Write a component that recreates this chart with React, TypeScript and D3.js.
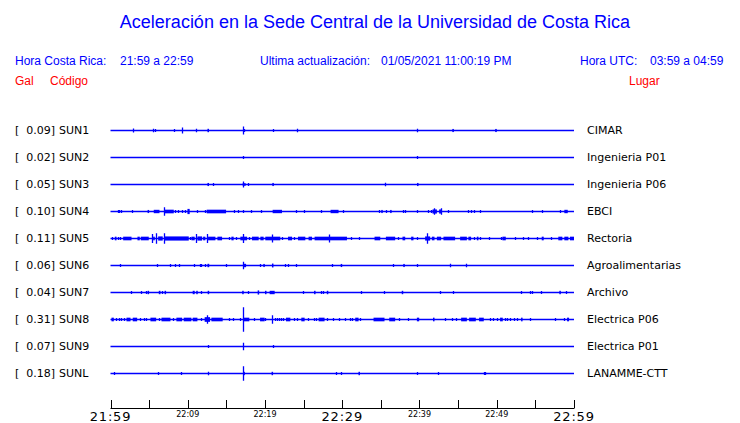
import React from "react";
import * as d3 from "d3";

// ---------- data ----------
const codes = ["SUN1", "SUN2", "SUN3", "SUN4", "SUN5", "SUN6", "SUN7", "SUN8", "SUN9", "SUNL"];
const peaks = ["0.09", "0.02", "0.05", "0.10", "0.11", "0.06", "0.04", "0.31", "0.07", "0.18"];
const places = ["CIMAR", "Ingenieria P01", "Ingenieria P06", "EBCI", "Rectoria", "Agroalimentarias", "Archivo", "Electrica P06", "Electrica P01", "LANAMME-CTT"];

const tickMinutes = [0, 5, 10, 15, 20, 25, 30, 35, 40, 45, 50, 55, 60];
const labelMinutes = [0, 10, 20, 30, 40, 50, 60];
const timeLabels = ["21:59", "22:09", "22:19", "22:29", "22:39", "22:49", "22:59"];
const bigLabels = ["21:59", "22:29", "22:59"];

// spikes: [minute, relative amplitude]; bursts: [start minute, end minute, relative amplitude]
const sun1Spikes = [[2.88,0.15],[5.52,0.14],[5.73,0.1],[8.19,0.08],[9.22,0.23],[11.03,0.14],[17.11,0.3],[17.3,0.1],[20.99,0.12],[24.09,0.14],[39.74,0.14]];
const sun1Bursts = [[12.55,12.75,0.13],[44.25,44.45,0.12],[49.8,50.0,0.12]];
const sun2Spikes = [[17.11,0.1],[39.74,0.08]];
const sun2Bursts: number[][] = [];
const sun3Spikes = [[13.23,0.08],[17.11,0.23],[17.76,0.12],[35.47,0.14]];
const sun3Bursts = [[12.55,12.75,0.12],[17.11,17.5,0.1],[20.95,21.1,0.12],[39.68,39.85,0.12]];
const sun4Spikes = [[0.94,0.1],[1.16,0.1],[1.42,0.1],[2.75,0.1],[6.89,0.32],[8.41,0.12],[8.75,0.12],[9.27,0.12],[9.7,0.12],[11.21,0.1],[12.28,0.1],[15.94,0.1],[16.46,0.1],[17.11,0.1],[18.14,0.1],[19.44,0.1],[23.96,0.1],[25.05,0.06],[27.19,0.1],[30.04,0.1],[34.7,0.1],[35.65,0.1],[37.8,0.1],[38.06,0.1],[39.74,0.1],[41.16,0.1],[41.47,0.1],[41.9,0.25],[42.84,0.25],[43.67,0.1],[46.33,0.08],[46.72,0.1],[47.11,0.1],[47.89,0.08],[54.53,0.1],[55.9,0.1],[58.23,0.1]];
const sun4Bursts = [[4.8,5.0,0.12],[5.6,6.34,0.13],[7.02,8.19,0.14],[9.96,10.25,0.2],[12.45,14.96,0.14],[20.99,22.2,0.13],[28.49,29.52,0.13],[35.05,35.2,0.12],[36.2,36.32,0.12],[41.68,42.25,0.16],[42.54,42.84,0.16],[58.75,59.19,0.13]];
const sun5Spikes = [[0.13,0.12],[1.0,0.12],[1.2,0.12],[5.39,0.35],[5.91,0.4],[6.89,0.4],[10.35,0.12],[11.08,0.35],[12.5,0.35],[15.3,0.1],[16.25,0.12],[17.1,0.35],[17.97,0.12],[20.91,0.3],[22.2,0.12],[23.79,0.12],[28.23,0.3],[31.16,0.12],[32.11,0.08],[37.28,0.1],[39.74,0.12],[41.0,0.4],[47.11,0.12],[47.89,0.12],[49.05,0.1],[50.56,0.1],[52.37,0.1],[53.45,0.08],[54.01,0.1],[55.18,0.08],[57.03,0.08]];
const sun5Bursts = [[0.56,0.78,0.14],[1.64,2.72,0.14],[3.49,3.79,0.14],[3.92,4.95,0.14],[5.52,5.73,0.14],[6.17,6.76,0.16],[7.02,10.13,0.16],[10.47,10.9,0.14],[11.25,11.86,0.16],[11.99,12.28,0.14],[12.63,13.58,0.14],[13.84,14.44,0.14],[15.65,15.94,0.14],[16.81,17.68,0.14],[18.32,19.18,0.14],[19.4,19.82,0.14],[20.04,21.98,0.14],[22.98,23.5,0.14],[24.27,25.22,0.14],[25.64,26.08,0.14],[26.42,30.61,0.14],[34.18,34.92,0.14],[35.65,36.85,0.14],[37.8,38.15,0.14],[38.92,39.22,0.14],[40.73,41.38,0.16],[41.6,41.94,0.14],[42.25,42.8,0.14],[43.1,44.61,0.14],[45.26,46.13,0.14],[46.33,46.68,0.14],[47.42,47.63,0.14],[50.73,51.17,0.14],[55.82,56.08,0.14],[57.97,58.49,0.14],[58.75,59.27,0.14],[59.48,60.0,0.14]];
const sun6Spikes = [[1.2,0.06],[5.99,0.12],[7.67,0.1],[8.31,0.12],[8.92,0.12],[10.77,0.06],[11.6,0.1],[11.77,0.1],[12.28,0.1],[14.91,0.1],[17.11,0.28],[19.31,0.12],[22.54,0.1],[22.93,0.1],[23.96,0.1],[28.67,0.06],[36.63,0.12],[39.74,0.1],[44.0,0.14],[46.07,0.14]];
const sun6Bursts = [[12.55,12.78,0.13],[17.16,17.55,0.13],[19.78,19.95,0.12],[20.9,21.05,0.15],[29.8,29.95,0.12],[37.9,38.05,0.12]];
const sun7Spikes = [[2.59,0.1],[4.01,0.08],[4.56,0.1],[6.72,0.12],[11.73,0.1],[17.76,0.1],[24.96,0.1],[27.2,0.08],[27.45,0.1],[32.42,0.06],[35.43,0.1],[42.71,0.06],[44.39,0.12],[53.19,0.12],[54.35,0.12],[54.61,0.12],[55.77,0.06],[59.01,0.06]];
const sun7Bursts = [[4.8,4.95,0.13],[6.25,6.47,0.13],[7.0,7.12,0.13],[10.64,10.9,0.13],[11.1,11.21,0.13],[12.58,12.7,0.13],[17.05,17.2,0.13],[19.05,19.18,0.16],[20.0,20.15,0.13],[20.6,21.25,0.13],[26.35,26.5,0.13],[28.0,28.12,0.13],[37.7,37.82,0.13],[58.1,58.22,0.13]];
const sun8Spikes = [[0.74,0.1],[1.16,0.1],[1.42,0.1],[1.77,0.1],[3.79,0.1],[4.36,0.1],[4.66,0.1],[6.25,0.1],[8.11,0.1],[11.73,0.1],[12.54,0.32],[15.39,0.1],[15.82,0.1],[16.81,0.1],[17.11,0.95],[18.53,0.1],[20.04,0.1],[20.91,0.32],[21.27,0.12],[21.56,0.12],[21.85,0.12],[22.11,0.12],[22.37,0.12],[23.7,0.1],[24.14,0.1],[25.57,0.1],[26.29,0.1],[26.64,0.1],[28.02,0.1],[28.8,0.1],[29.52,0.1],[30.3,0.12],[30.39,0.12],[31.04,0.12],[31.26,0.12],[32.24,0.08],[37.41,0.1],[38.57,0.1],[43.32,0.1],[44.19,0.12],[44.74,0.1],[49.14,0.1],[49.57,0.1],[50.01,0.1],[51.08,0.12],[51.38,0.1],[51.73,0.12],[52.25,0.12],[52.63,0.12],[54.35,0.08],[57.55,0.1],[58.75,0.12]];
const sun8Bursts = [[0.13,0.43,0.14],[2.07,2.59,0.14],[2.88,3.45,0.14],[5.17,5.91,0.14],[6.6,7.76,0.14],[8.53,9.27,0.14],[9.48,10.47,0.14],[10.64,11.25,0.14],[12.19,12.89,0.18],[13.06,14.52,0.14],[17.24,17.97,0.14],[19.36,19.95,0.14],[22.72,23.28,0.14],[24.7,25.13,0.14],[26.94,27.71,0.14],[31.68,32.11,0.14],[34.05,35.47,0.14],[36.08,36.85,0.14],[39.66,39.96,0.14],[41.75,41.9,0.14],[45.39,46.13,0.14],[46.42,47.29,0.14],[47.71,48.32,0.14],[50.43,50.78,0.14],[53.15,53.3,0.14],[59.1,59.36,0.14]];
const sun9Spikes = [[12.58,0.1],[17.11,0.28],[20.99,0.1]];
const sun9Bursts: number[][] = [];
const sunLSpikes = [[0.43,0.12],[6.12,0.12],[9.09,0.12],[12.58,0.14],[17.11,0.56],[29.13,0.1],[29.78,0.06],[39.74,0.1],[42.41,0.12],[48.32,0.12],[48.53,0.12]];
const sunLBursts = [[17.2,17.35,0.13],[20.85,21.0,0.13],[32.1,32.25,0.13]];

const spikes = [sun1Spikes, sun2Spikes, sun3Spikes, sun4Spikes, sun5Spikes, sun6Spikes, sun7Spikes, sun8Spikes, sun9Spikes, sunLSpikes];
const bursts = [sun1Bursts, sun2Bursts, sun3Bursts, sun4Bursts, sun5Bursts, sun6Bursts, sun7Bursts, sun8Bursts, sun9Bursts, sunLBursts];

// ---------- chart ----------
const W = 740;
const H = 423;
const BLUE = "#0000ff";
const RED = "#ff0000";
const SANS = "'Liberation Sans', Arial, sans-serif";
const DV = "'DejaVu Sans', sans-serif";

export default function App() {
  const x = d3.scaleLinear().domain([0, 60]).range([110.5, 574]);
  const y = d3.scalePoint<string>().domain(codes).range([130.5, 373.5]);
  const amp = d3.scaleLinear().domain([0, 1]).range([0, 13]);

  const tracePath = (i: number) => {
    const p = d3.path();
    const yy = y(codes[i]) as number;
    p.moveTo(x(0), yy);
    p.lineTo(x(60), yy);
    for (const [t, a] of spikes[i]) {
      const xx = Math.round(x(t)) + 0.5;
      const h = Math.max(1.5, amp(a));
      p.moveTo(xx, yy - h);
      p.lineTo(xx, yy + h);
    }
    return p.toString();
  };

  return (
    <svg width={W} height={H} style={{ position: "absolute", left: 0, top: 0, background: "#fff" }}>
      <rect x={0} y={0} width={W} height={H} fill="#fff" />
      <text x={375} y={28} textAnchor="middle" fill={BLUE} fontFamily={SANS} fontSize={18}>
        Aceleración en la Sede Central de la Universidad de Costa Rica
      </text>
      <g fill={BLUE} fontFamily={SANS} fontSize={12}>
        <text x={15} y={65}>Hora Costa Rica:</text>
        <text x={120} y={65}>21:59 a 22:59</text>
        <text x={260} y={65}>Ultima actualización:</text>
        <text x={381} y={65}>01/05/2021 11:00:19 PM</text>
        <text x={580} y={65}>Hora UTC:</text>
        <text x={650} y={65}>03:59 a 04:59</text>
      </g>
      <g fill={RED} fontFamily={SANS} fontSize={12}>
        <text x={15} y={85}>Gal</text>
        <text x={50} y={85}>Código</text>
        <text x={629} y={85}>Lugar</text>
      </g>

      {codes.map((c, i) => {
        const yy = y(c) as number;
        return (
          <g key={c}>
            <g fontFamily={DV} fontSize={11} fill="#000">
              <text x={15} y={yy + 3.8}>[</text>
              <text x={55} y={yy + 3.8} textAnchor="end">{peaks[i]}]</text>
              <text x={59} y={yy + 3.8}>{c}</text>
              <text x={587} y={yy + 3.8}>{places[i]}</text>
            </g>
            <path d={tracePath(i)} stroke={BLUE} strokeWidth={1.3} fill="none" />
            {bursts[i].map(([t0, t1, a], k) => (
              <rect
                key={k}
                x={x(t0)}
                y={yy - amp(a)}
                width={Math.max(1.5, x(t1) - x(t0))}
                height={2 * amp(a)}
                fill={BLUE}
              />
            ))}
          </g>
        );
      })}

      <g stroke="#000" strokeWidth={1}>
        <line x1={x(0)} x2={x(60)} y1={408.5} y2={408.5} />
        {tickMinutes.map((m) => (
          <line key={m} x1={Math.round(x(m)) + 0.5} x2={Math.round(x(m)) + 0.5} y1={400} y2={408.5} />
        ))}
      </g>
      <g fill="#000" fontFamily={DV} textAnchor="middle">
        {labelMinutes.map((m, i) => {
          const big = bigLabels.includes(timeLabels[i]);
          return (
            <text key={m} x={x(m)} y={big ? 421 : 417} fontSize={big ? 13 : 8} letterSpacing={big ? 0.8 : 0}>
              {timeLabels[i]}
            </text>
          );
        })}
      </g>
    </svg>
  );
}
